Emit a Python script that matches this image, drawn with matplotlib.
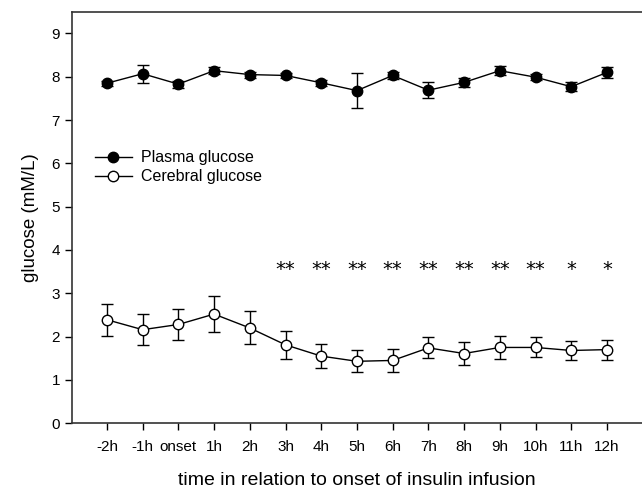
import numpy as np
import matplotlib.pyplot as plt
from matplotlib.lines import Line2D

plt.rcParams['font.family'] = ['Liberation Sans', 'DejaVu Sans']

# datos
labels = ["-2h", "-1h", "onset", "1h", "2h", "3h", "4h", "5h", "6h", "7h",
          "8h", "9h", "10h", "11h", "12h"]
plasma = [7.85, 8.07, 7.83, 8.14, 8.05, 8.03, 7.86, 7.68, 8.03, 7.69,
          7.87, 8.14, 7.99, 7.77, 8.10]
plasma_err = [0.06, 0.21, 0.08, 0.08, 0.07, 0.06, 0.07, 0.41, 0.08, 0.19,
              0.11, 0.10, 0.07, 0.10, 0.13]
cerebral = [2.39, 2.16, 2.28, 2.52, 2.20, 1.81, 1.55, 1.43, 1.45, 1.74,
            1.61, 1.75, 1.75, 1.68, 1.70]
cerebral_err = [0.37, 0.36, 0.36, 0.41, 0.38, 0.32, 0.28, 0.25, 0.27, 0.24,
                0.26, 0.26, 0.23, 0.23, 0.23]
signif = ["", "", "", "", "", "**", "**", "**", "**", "**",
          "**", "**", "**", "*", "*"]

x = np.arange(len(labels))

fig = plt.figure(figsize=(6.42, 4.91), dpi=100)
ax = fig.add_axes([0.112, 0.138, 0.888, 0.838])

ax.errorbar(x, plasma, yerr=plasma_err, fmt='-o', color='black',
            mfc='black', mec='black', ms=7.5, lw=1, elinewidth=1,
            capsize=4, capthick=1, zorder=3)
ax.errorbar(x, cerebral, yerr=cerebral_err, fmt='-o', color='black',
            mfc='white', mec='black', ms=7.5, mew=1, lw=1, elinewidth=1,
            capsize=4, capthick=1, zorder=3)

for xi, s in zip(x, signif):
    if s:
        ax.text(xi, 3.55, s, ha='center', va='center', fontsize=14,
                family='DejaVu Sans')

ax.set_xlim(-0.98, 14.98)
ax.set_ylim(0, 9.5)
ax.set_yticks(range(10))
ax.set_xticks(x)
ax.set_xticklabels(labels)
ax.tick_params(direction='out', length=5, width=1, labelsize=11, colors='black')
ax.tick_params(axis='x', pad=7)

for sp in ['left', 'bottom', 'top']:
    ax.spines[sp].set_linewidth(1.2)
    ax.spines[sp].set_color('#333333')
ax.spines['right'].set_visible(False)

ax.set_ylabel('glucose (mM/L)', fontsize=13.5, labelpad=9)
ax.set_xlabel('time in relation to onset of insulin infusion', fontsize=14, labelpad=13)

handles = [
    Line2D([], [], color='black', lw=1, marker='o', ms=7.5, mfc='black', mec='black'),
    Line2D([], [], color='black', lw=1, marker='o', ms=7.5, mfc='white', mec='black'),
]
ax.legend(handles, ['Plasma glucose', 'Cerebral glucose'], loc='upper left',
          bbox_to_anchor=(0.015, 0.698), frameon=False, fontsize=11.5,
          handlelength=2.3, handletextpad=0.6, labelspacing=0.25)

fig.savefig('out.png', dpi=100)
